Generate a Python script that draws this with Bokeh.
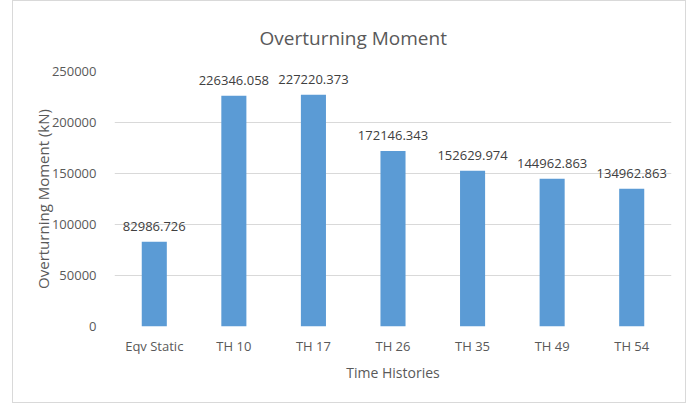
from bokeh.plotting import figure
from bokeh.models import ColumnDataSource, LabelSet, Title, FixedTicker, Range1d, BasicTickFormatter
from bokeh.core.properties import value
from bokeh.embed import file_html
from bokeh.resources import INLINE

categories = ["Eqv Static", "TH 10", "TH 17", "TH 26", "TH 35", "TH 49", "TH 54"]
values = [82986.726, 226346.058, 227220.373, 172146.343, 152629.974, 144962.863, 134962.863]
value_labels = ["82986.726", "226346.058", "227220.373", "172146.343", "152629.974", "144962.863", "134962.863"]
y_ticks = [0, 50000, 100000, 150000, 200000, 250000]

FONT = "Open Sans"
GRAY = "#595959"

src = ColumnDataSource(dict(cat=categories, val=values, lab=value_labels))

p = figure(x_range=categories, y_range=Range1d(0, 250000), width=672, height=401,
           output_backend="svg", toolbar_location=None,
           min_border_left=101, min_border_right=14, min_border_top=70, min_border_bottom=76)
p.margin = (1, 0, 0, 13)
p.styles = {"outline": "1px solid #d9d9d9"}

p.vbar(x="cat", top="val", width=0.315, source=src, color="#5B9BD5", line_color=None)

labels = LabelSet(x="cat", y="val", text="lab", source=src, text_align="center",
                  text_baseline="bottom", y_offset=11, text_font=value(FONT),
                  text_font_size="13px", text_color="#404040")
p.add_layout(labels)

t = Title(text="Overturning Moment", align="left", offset=145, standoff=42,
          text_font=FONT, text_font_size="19px", text_color=GRAY, text_font_style="normal")
p.add_layout(t, "above")

p.outline_line_color = None
p.xgrid.grid_line_color = None
p.ygrid.grid_line_color = "#d9d9d9"
p.ygrid.grid_line_width = 1

for ax in (p.xaxis[0], p.yaxis[0]):
    ax.axis_line_color = None
    ax.major_tick_line_color = None
    ax.minor_tick_line_color = None
    ax.major_label_text_font = FONT
    ax.major_label_text_font_size = "13px"
    ax.major_label_text_color = GRAY
    ax.axis_label_text_font = FONT
    ax.axis_label_text_color = GRAY
    ax.axis_label_text_font_style = "normal"

p.yaxis.ticker = FixedTicker(ticks=y_ticks)
p.yaxis.formatter = BasicTickFormatter(use_scientific=False)
p.yaxis.major_label_standoff = 12
p.yaxis.axis_label = "Overturning Moment (kN)"
p.yaxis.axis_label_text_font_size = "15px"
p.yaxis.axis_label_standoff = -4
p.xaxis.major_label_standoff = 4
p.xaxis.axis_label = "Time Histories"
p.xaxis.axis_label_text_font_size = "14px"
p.xaxis.axis_label_standoff = 5

open("out.html", "w").write(file_html(p, INLINE))
